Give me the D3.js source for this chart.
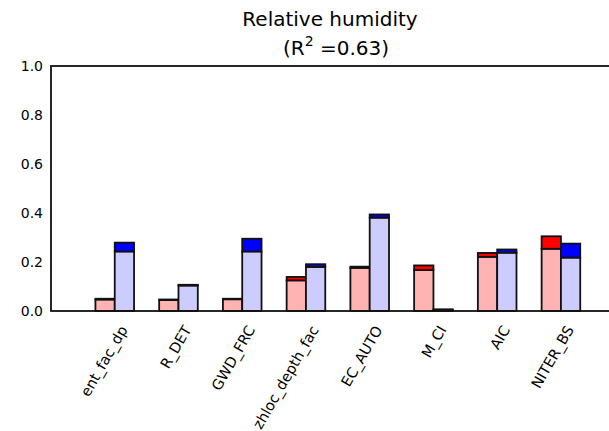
<!DOCTYPE html>
<html>
<head>
<meta charset="utf-8">
<script src="https://cdn.jsdelivr.net/npm/d3@7"></script>
<style>
body { margin: 0; background: #fff; }
text { font-family: "DejaVu Sans", sans-serif; fill: #000; }
</style>
</head>
<body>
<div id="chart"></div>
<script>
// values
const categories = ["ent_fac_dp", "R_DET", "GWD_FRC", "zhloc_depth_fac", "EC_AUTO", "M_CI", "AIC", "NITER_BS"];
const pinkBase = [0.047, 0.045, 0.048, 0.125, 0.176, 0.167, 0.221, 0.254];
const redTop   = [0.003, 0.002, 0.002, 0.014, 0.005, 0.019, 0.016, 0.051];
const blueBase = [0.243, 0.104, 0.243, 0.180, 0.381, 0.004, 0.238, 0.218];
const blueTop  = [0.036, 0.003, 0.052, 0.011, 0.013, 0.003, 0.013, 0.057];
const yTicks = [0, 0.2, 0.4, 0.6, 0.8, 1.0];

const width = 609, height = 431;
const margin = {top: 66, right: -1, bottom: 120, left: 51};
const barW = 0.303;

let svg = d3.select("#chart")
    .append("svg")
    .attr("width", width)
    .attr("height", height);

let x = d3.scaleLinear()
    .domain([0, 8.77])
    .range([margin.left, width - margin.right]);

let y = d3.scaleLinear()
    .domain([0, 1])
    .range([height - margin.bottom, margin.top]);

// bars: pink/red on the left of each tick, light blue/blue on the right
let groups = svg.append("g").selectAll("g")
    .data(categories.map((c, i) => ({c: c, i: i})))
    .enter()
    .append("g");

function stackRect(sel, x0, lo, hi, fill) {
    sel.append("rect")
        .attr("x", x(x0))
        .attr("width", x(x0 + barW) - x(x0))
        .attr("y", y(hi))
        .attr("height", y(lo) - y(hi))
        .attr("fill", fill)
        .attr("stroke", "#111")
        .attr("stroke-width", 1.8);
}

groups.each(function(d) {
    let g = d3.select(this);
    let c = d.i + 1;
    stackRect(g, c - barW, 0, pinkBase[d.i], "#ffb3b3");
    stackRect(g, c - barW, pinkBase[d.i], pinkBase[d.i] + redTop[d.i], "#ff0000");
    stackRect(g, c, 0, blueBase[d.i], "#ccccff");
    stackRect(g, c, blueBase[d.i], blueBase[d.i] + blueTop[d.i], "#0000ff");
});

// axes frame
svg.append("rect")
    .attr("x", margin.left)
    .attr("y", margin.top)
    .attr("width", width - margin.right - margin.left)
    .attr("height", height - margin.bottom - margin.top)
    .attr("fill", "none")
    .attr("stroke", "#111")
    .attr("stroke-width", 1.8);

let yAxis = svg.append("g")
    .attr("transform", `translate(${margin.left}, 0)`)
    .call(d3.axisLeft(y).tickValues(yTicks).tickFormat(d3.format(".1f")).tickSize(0).tickPadding(8));
yAxis.select(".domain").remove();
yAxis.selectAll("text")
    .style("font-family", "DejaVu Sans, sans-serif")
    .style("font-size", "14px")
    .attr("fill", "#000");

// rotated x tick labels, right end sits just right of each pair
let xLabels = svg.append("g");
categories.forEach(function(c, i) {
    xLabels.append("text")
        .style("font-size", "14.5px")
        .attr("text-anchor", "end")
        .attr("dominant-baseline", "central")
        .attr("transform", `translate(${x(i + 1) + 9}, ${y(0) + 16}) rotate(-60)`)
        .text(c);
});

// title
svg.append("text")
    .attr("x", 330)
    .attr("y", 26)
    .attr("text-anchor", "middle")
    .style("font-size", "20px")
    .text("Relative humidity");

let t2 = svg.append("text")
    .attr("x", 336)
    .attr("y", 55)
    .attr("text-anchor", "middle")
    .style("font-size", "20px");
t2.append("tspan").text("(R");
t2.append("tspan").attr("dy", -9).style("font-size", "14px").text("2");
t2.append("tspan").attr("dy", 9).text("\u00a0=0.63)");
</script>
</body>
</html>
